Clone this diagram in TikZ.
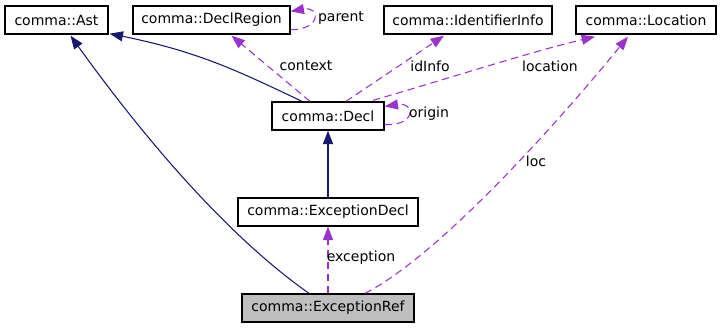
\documentclass[tikz,border=0pt]{standalone}
\usepackage{fontspec}
\setmainfont{DejaVu Sans}
\usetikzlibrary{arrows.meta, calc}

\definecolor{edgeblue}{HTML}{191970}
\definecolor{edgepurple}{HTML}{9A32CD}
\definecolor{boxgray}{HTML}{BFBFBF}
\def\px{0.75pt}

\begin{document}
\begin{tikzpicture}[
    x=0.75pt, y=-0.75pt,
    font=\fontsize{10.5}{12}\selectfont,
    % Style definitions
    class box/.style={draw, line width=1pt, rectangle, minimum height={28*\px}, inner sep=2pt},
    main box/.style={class box, fill=boxgray},
    % Edge styles
    inherit/.style={draw=edgeblue, line width=0.8pt, -{Triangle[length=10pt, width=7.5pt]}},
    member/.style={draw=edgepurple, line width=0.8pt, dash pattern=on 5.5pt off 3.5pt, -{Triangle[length=10pt, width=7.5pt]}},
    % Text styles
    edge label/.style={inner sep=1pt}
]

\useasboundingbox (0,0) rectangle (720,328);

% ==========================================
% 1. CLASSES
% ==========================================

% Top row
\node[class box, minimum width={103*\px}] (ast) at (56.5, 20) {comma::Ast};
\node[class box, minimum width={157*\px}] (declregion) at (211.5, 20) {comma::DeclRegion};
\node[class box, minimum width={168*\px}] (identinfo) at (468, 20) {comma::IdentifierInfo};
\node[class box, minimum width={140*\px}] (location) at (646, 20) {comma::Location};

% Middle column
\node[class box, minimum width={112*\px}] (decl) at (328, 116) {comma::Decl};
\node[class box, minimum width={180*\px}] (excdecl) at (328, 212) {comma::ExceptionDecl};

% The documented class
\node[main box, minimum width={172*\px}] (excref) at (328, 308) {comma::ExceptionRef};

% ==========================================
% 2. INHERITANCE (solid)
% ==========================================

\draw[inherit] ($(decl.north)+(-26,0)$) .. controls (240,72) and (200,52) .. ($(ast.south east)+(1,-1)$);
\draw[inherit] ($(excref.north)+(-19,0)$) .. controls (240,245) and (160,160) .. ($(ast.south)+(14,1)$);
\draw[inherit] (excdecl.north) -- (decl.south);

% ==========================================
% 3. MEMBERS (dashed)
% ==========================================

% Decl -> upper classes
\draw[member] ($(decl.north)+(-18,0)$) -- ($(declregion.south)+(20,1)$);
\draw[member] ($(decl.north)+(18,0)$) -- ($(identinfo.south)+(-24,1)$);
\draw[member] ($(decl.north)+(45,-1)$) .. controls (450,78) and (530,52) .. ($(location.south)+(-51,2)$);

% Self references
\draw[member] ($(declregion.south east)+(0,-5)$) .. controls (321,30) and (321,6) .. ($(declregion.north east)+(0,6)$);
\draw[member] ($(decl.south east)+(0,-6)$) .. controls (416,126) and (416,102) .. ($(decl.north east)+(0,5)$);

% ExceptionRef -> members
\draw[member] (excref.north) -- (excdecl.south);
\draw[member] ($(excref.north)+(37,0)$) .. controls (440,255) and (560,120) .. ($(location.south)+(-18,2)$);

% Labels
\node[edge label] (lblparent) at (341, 18) {parent};
\node[edge label] (lblcontext) at (306, 66) {context};
\node[edge label] (lblidinfo) at (430, 66) {idInfo};
\node[edge label] (lbllocation) at (550, 66) {location};
\node[edge label] (lblorigin) at (429, 114) {origin};
\node[edge label] (lblloc) at (536, 161) {loc};
\node[edge label] (lblexception) at (361, 258) {exception};

\end{tikzpicture}
\end{document}
